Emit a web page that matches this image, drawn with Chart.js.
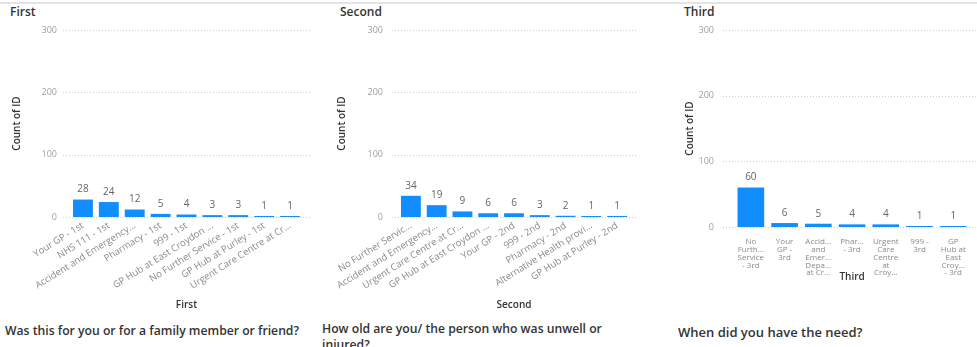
<!DOCTYPE html>
<html lang="en">
<head>
<meta charset="UTF-8" />
<title>First / Second / Third</title>
<script src="https://cdn.jsdelivr.net/npm/chart.js"></script>
<style>
  body { margin: 0; width: 977px; height: 347px; background: #fff; position: relative; overflow: hidden; font-family: "Open Sans", sans-serif; }
  .topline { position: absolute; left: 0; top: 2px; width: 977px; height: 2px; background: #e4e4e4; }
  .panel-title { position: absolute; top: 3px; font-size: 12px; color: #333; font-weight: 600; }
  .next-title { position: absolute; font-size: 12.2px; color: #333; font-weight: 600; line-height: 16px; white-space: nowrap; }
  canvas { position: absolute; top: 0; }
</style>
</head>
<body>
<div class="topline"></div>
<div class="panel-title" style="left:10px">First</div>
<div class="panel-title" style="left:340px">Second</div>
<div class="panel-title" style="left:684px">Third</div>

<div style="position:absolute;left:0;top:0;width:318px;height:315px"><canvas id="first"></canvas></div>
<div style="position:absolute;left:322px;top:0;width:322px;height:315px"><canvas id="second"></canvas></div>
<div style="position:absolute;left:670px;top:0;width:307px;height:290px"><canvas id="third"></canvas></div>

<div class="next-title" style="left:5px;top:323px">Was this for you or for a family member or friend?</div>
<div class="next-title" style="left:322px;top:321px">How old are you/ the person who was unwell or<br>injured?</div>
<div class="next-title" style="left:678px;top:324px;font-size:13px">When did you have the need?</div>

<script>
  // data
  const firstLabels = ["Your GP - 1st", "NHS 111 - 1st", "Accident and Emergency...", "Pharmacy - 1st", "999 - 1st",
    "GP Hub at East Croydon ...", "No Further Service - 1st", "GP Hub at Purley - 1st", "Urgent Care Centre at Cr..."];
  const firstValues = [28, 24, 12, 5, 4, 3, 3, 1, 1];

  const secondLabels = ["No Further Servic...", "Accident and Emergency...", "Urgent Care Centre at Cr...",
    "GP Hub at East Croydon ...", "Your GP - 2nd", "999 - 2nd", "Pharmacy - 2nd",
    "Alternative Health provi...", "GP Hub at Purley - 2nd"];
  const secondValues = [34, 19, 9, 6, 6, 3, 2, 1, 1];

  // third chart shows its labels wrapped
  const thirdLabels = [
    ["No", "Furth...", "Service", "- 3rd"],
    ["Your", "GP -", "3rd"],
    ["Accid...", "and", "Emer...", "Depa...", "at Cr..."],
    ["Phar...", "- 3rd"],
    ["Urgent", "Care", "Centre", "at", "Croy..."],
    ["999 -", "3rd"],
    ["GP", "Hub at", "East", "Croy...", "- 3rd"]
  ];
  const thirdValues = [60, 6, 5, 4, 4, 1, 1];

  const yMax = 300;
  const yStep = 100;

  const FONT = "'Open Sans', sans-serif";
  const BLUE = "#118DFF";

  // dotted horizontal grid, drawn a bit wider than the bars like Power BI does
  const dottedGrid = {
    id: "dottedGrid",
    beforeDatasetsDraw(chart, args, opts) {
      const y = chart.scales.y;
      const c = chart.ctx;
      c.save();
      c.strokeStyle = "#cfcfcf";
      c.lineWidth = 1;
      c.setLineDash([1, 2]);
      y.ticks.forEach((t) => {
        const py = Math.round(y.getPixelForValue(t.value)) + 0.5;
        c.beginPath();
        c.moveTo(opts.from, py);
        c.lineTo(opts.to, py);
        c.stroke();
      });
      c.restore();
    },
  };

  // value labels above each bar
  const barValues = {
    id: "barValues",
    afterDatasetsDraw(chart) {
      const c = chart.ctx;
      const ds = chart.data.datasets[0];
      c.save();
      c.font = "10px " + FONT;
      c.fillStyle = "#666";
      c.textAlign = "center";
      c.textBaseline = "middle";
      chart.getDatasetMeta(0).data.forEach((bar, i) => {
        c.fillText(ds.data[i], bar.x, bar.y - 10);
      });
      c.restore();
    },
  };

  function makeChart(id, labels, values, g) {
    return new Chart(document.getElementById(id), {
      type: "bar",
      data: {
        labels: labels,
        datasets: [{
          data: values,
          backgroundColor: BLUE,
          borderWidth: 0,
          minBarLength: 1,
          categoryPercentage: 1,
          barPercentage: g.barPct,
        }],
      },
      options: {
        responsive: true,
        maintainAspectRatio: false,
        animation: false,
        layout: { padding: { left: 0, top: 30, right: g.padRight, bottom: g.padBottom } },
        plugins: {
          legend: { display: false },
          tooltip: { enabled: false },
          dottedGrid: { from: g.gridFrom, to: g.gridTo },
        },
        scales: {
          x: {
            grid: { display: false, drawTicks: false },
            border: { display: false },
            ticks: {
              autoSkip: false,
              minRotation: g.rot,
              maxRotation: g.rot,
              padding: g.xPad,
              color: "#8a8a8a",
              font: { family: FONT, size: g.xFont, lineHeight: g.lineH },
            },
            title: {
              display: true,
              text: g.xTitle,
              color: "#333",
              font: { family: FONT, size: 10, weight: "600" },
              padding: { top: 0, bottom: 4 },
            },
            afterFit: (s) => { s.height = g.xHeight; },
          },
          y: {
            min: 0,
            max: yMax,
            grid: { display: false, drawTicks: false },
            border: { display: false },
            ticks: {
              stepSize: yStep,
              padding: g.yPad,
              color: "#a0a0a0",
              font: { family: FONT, size: 9 },
            },
            title: {
              display: true,
              text: "Count of ID",
              color: "#333",
              font: { family: FONT, size: 10, weight: "600" },
              padding: { top: g.yTitlePad, bottom: 0 },
            },
            afterFit: (s) => { s.width = g.yWidth; },
          },
        },
      },
      plugins: [dottedGrid, barValues],
    });
  }

  makeChart("first", firstLabels, firstValues, {
    xTitle: "First", barPct: 0.77, rot: 32, xPad: 3, xFont: 9.5, lineH: 1.2,
    padRight: 15, padBottom: 0, xHeight: 98, yWidth: 70, yPad: 13, yTitlePad: 11,
    gridFrom: 63, gridTo: 312,
  });

  makeChart("second", secondLabels, secondValues, {
    xTitle: "Second", barPct: 0.77, rot: 32, xPad: 3, xFont: 9.5, lineH: 1.2,
    padRight: 14, padBottom: 0, xHeight: 98, yWidth: 76, yPad: 15, yTitlePad: 14,
    gridFrom: 70, gridTo: 316,
  });

  makeChart("third", thirdLabels, thirdValues, {
    xTitle: "Third", barPct: 0.79, rot: 0, xPad: 11, xFont: 8, lineH: "7.8px",
    padRight: 3, padBottom: 3, xHeight: 60, yWidth: 64, yPad: 20, yTitlePad: 14,
    gridFrom: 53, gridTo: 307,
  });
</script>
</body>
</html>
